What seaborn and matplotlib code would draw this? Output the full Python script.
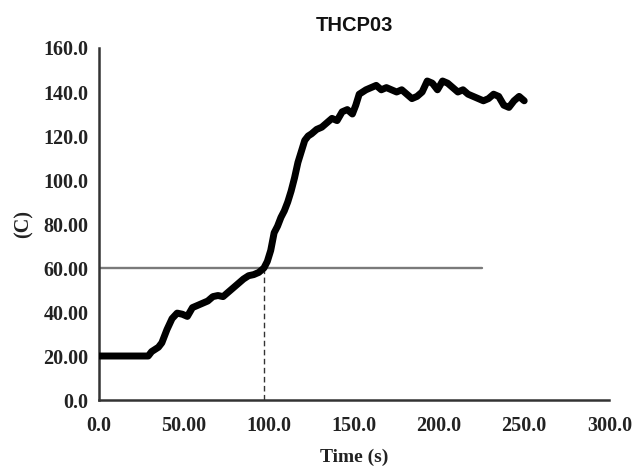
import matplotlib
matplotlib.use("Agg")
import matplotlib.pyplot as plt
import seaborn as sns
import pandas as pd

# ---- data ----
time_s = [0, 5, 10, 15, 20, 25, 29, 31, 33, 35, 37,
          40, 43, 46, 49, 52, 55, 58, 61, 64, 67, 70, 73, 76, 79, 82, 85, 88, 91, 94, 97,
          99, 101, 103, 105, 107, 109, 111, 113, 115, 117, 119, 121, 123, 125,
          128, 131, 134, 137, 140, 143, 146, 149,
          151, 153, 155, 157,
          160, 163, 166, 169, 172, 175, 178, 181, 184, 187, 190, 193, 196, 199, 202, 205,
          208, 211, 214, 217,
          220, 223, 226, 229, 232, 235, 238, 241, 244, 247, 250]
temp_c = [20, 20, 20, 20, 20, 20, 20, 22, 23, 24, 26,
          32, 37, 39.5, 39, 38, 42, 43, 44, 45, 47, 47.5, 47, 49, 51, 53, 55, 56.5, 57, 58, 60,
          63, 68, 76, 79, 83, 86, 90, 95, 101, 108, 113, 118, 120, 121,
          123, 124, 126, 128, 127, 131, 132, 130,
          134, 139, 140, 141,
          142, 143, 141, 142, 141, 140, 141, 139, 137, 138, 140, 145, 144, 141, 145, 144,
          142, 140, 141, 139,
          138, 137, 136, 137, 139, 138, 134, 133, 136, 138, 136]

threshold_x = [0, 225]        # horizontal 60 C reference line
threshold_y = [60, 60]
cross_x = [97, 97]            # time the 60 C level is reached
cross_y = [0, 60]

x_ticks = [0, 50, 100, 150, 200, 250, 300]
x_tick_labels = ["0.0", "50.00", "100.0", "150.0", "200.0", "250.0", "300.0"]
y_ticks = [0, 20, 40, 60, 80, 100, 120, 140, 160]
y_tick_labels = ["0.0", "20.00", "40.00", "60.00", "80.00", "100.0", "120.0", "140.0", "160.0"]

title = "THCP03"
x_label = "Time (s)"
y_label = "(C)"

df = pd.DataFrame({"time": time_s, "temp": temp_c})

sns.set_style("white")
plt.rcParams["font.family"] = ["Liberation Serif", "DejaVu Serif"]

fig = plt.figure(figsize=(6.38, 4.66), dpi=100)
ax = fig.add_axes([0.155, 0.1416, 0.8, 0.7554])

ax.plot(threshold_x, threshold_y, color="#7a7a7a", linewidth=1.7, zorder=2)
ax.plot(cross_x, cross_y, color="#333333", linewidth=1.0,
        linestyle=(0, (4, 2.5)), zorder=2)
sns.lineplot(data=df, x="time", y="temp", ax=ax, color="black", linewidth=5.0,
             solid_capstyle="round", solid_joinstyle="round", zorder=3)

ax.set_xlim(0, 300)
ax.set_ylim(0, 160)
ax.set_xticks(x_ticks)
ax.set_xticklabels(x_tick_labels)
ax.set_yticks(y_ticks)
ax.set_yticklabels(y_tick_labels)

for s in ["top", "right"]:
    ax.spines[s].set_visible(False)
for s in ["left", "bottom"]:
    ax.spines[s].set_color("#333333")
    ax.spines[s].set_linewidth(1.8)

ax.tick_params(axis="both", direction="inout", length=7, width=1.2, color="#333333",
               labelsize=14.5)
ax.tick_params(axis="x", pad=8)
ax.tick_params(axis="y", pad=4)
for lbl in ax.get_xticklabels() + ax.get_yticklabels():
    lbl.set_fontweight("bold")
    lbl.set_color("#222222")

ax.set_xlabel(x_label, fontsize=14, fontweight="bold", color="#222222", labelpad=9)
ax.set_ylabel(y_label, fontsize=14.5, fontweight="bold", color="#222222", labelpad=7)
ax.set_title(title, fontsize=14.5, fontweight="bold", family=["Liberation Sans", "DejaVu Sans"],
             color="#111111", pad=12)
ax.grid(False)

fig.savefig("out.png", dpi=100)
